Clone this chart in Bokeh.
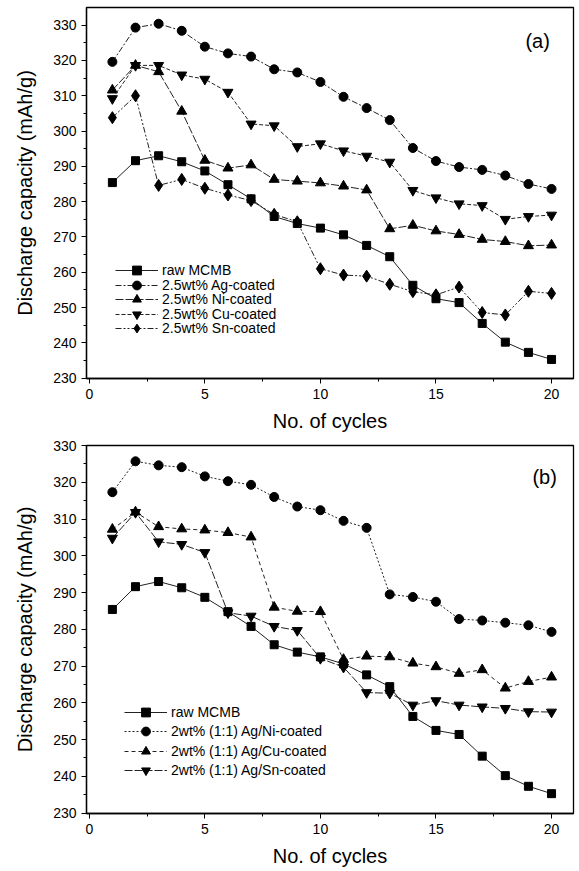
from bokeh.plotting import figure
from bokeh.layouts import column
from bokeh.models import Legend, LegendItem, Label, Range1d, FixedTicker
from bokeh.embed import file_html
from bokeh.resources import INLINE

cycles = list(range(1, 21))

# Panel (a)
raw_mcmb = [285.4, 291.6, 293.0, 291.3, 288.7, 284.8, 280.8, 275.8, 273.8, 272.5,
            270.6, 267.6, 264.4, 256.3, 252.5, 251.4, 245.5, 240.2, 237.3, 235.3]
ag_coated = [319.6, 329.3, 330.4, 328.4, 323.9, 322.0, 321.1, 317.5, 316.6, 313.9,
             309.7, 306.5, 303.1, 295.2, 291.5, 289.8, 289.0, 287.4, 285.0, 283.6]
ni_coated = [311.6, 318.6, 316.8, 305.6, 291.7, 289.5, 290.4, 286.3, 285.8, 285.3,
             284.4, 283.3, 272.3, 273.3, 271.7, 270.7, 269.3, 268.7, 267.5, 267.7]
cu_coated = [309.2, 318.6, 318.6, 315.9, 314.7, 311.0, 302.0, 301.5, 295.6, 296.4,
             294.4, 292.9, 291.2, 283.2, 281.1, 279.4, 278.9, 275.0, 275.8, 276.2]
sn_coated = [303.8, 310.0, 284.6, 286.3, 283.8, 281.9, 280.3, 276.4, 274.3, 261.0,
             259.2, 258.9, 256.6, 254.5, 253.6, 255.8, 248.6, 247.9, 254.6, 254.0]

# Panel (b)
agni_coated = [317.3, 325.7, 324.6, 324.1, 321.6, 320.3, 319.3, 316.0, 313.4, 312.4,
               309.5, 307.6, 289.5, 288.8, 287.5, 282.8, 282.4, 281.8, 281.1, 279.3]
agcu_coated = [307.2, 311.9, 307.9, 307.3, 307.0, 306.3, 305.1, 286.0, 284.9, 284.8,
               271.8, 272.7, 272.5, 270.8, 269.8, 268.0, 269.0, 264.0, 265.8, 267.0]
agsn_coated = [304.8, 311.8, 303.8, 303.1, 300.9, 284.5, 283.6, 280.8, 279.7, 272.1,
               269.7, 262.8, 262.6, 259.4, 260.6, 259.4, 258.9, 258.5, 257.6, 257.5]

labels_a = ["raw MCMB", "2.5wt% Ag-coated", "2.5wt% Ni-coated",
            "2.5wt% Cu-coated", "2.5wt% Sn-coated"]
labels_b = ["raw MCMB", "2wt% (1:1) Ag/Ni-coated", "2wt% (1:1) Ag/Cu-coated",
            "2wt% (1:1) Ag/Sn-coated"]

x_ticks = [0, 5, 10, 15, 20]
y_ticks = [230, 240, 250, 260, 270, 280, 290, 300, 310, 320, 330]

FONT = "Liberation Sans"


def make_fig(height, ymax, b_top, b_left, b_right, series, labels, markers, dashes,
             sizes, panel, panel_xy, leg_x, leg_y0, leg_step):
    p = figure(width=579, height=height, output_backend="svg", toolbar_location=None,
               x_range=Range1d(-0.12, 20.95), y_range=Range1d(229.9, ymax),
               min_border_top=b_top, min_border_bottom=58, min_border_left=b_left,
               min_border_right=b_right)
    p.background_fill_color = "white"
    p.border_fill_color = "white"
    p.outline_line_color = "black"
    p.outline_line_width = 1.3
    p.grid.visible = False
    for ax in (p.xaxis[0], p.yaxis[0]):
        ax.axis_line_color = "black"
        ax.axis_line_width = 1.3
        ax.major_tick_line_color = "black"
        ax.minor_tick_line_color = "black"
        ax.major_tick_out = 5
        ax.major_tick_in = 0
        ax.minor_tick_out = 3
        ax.minor_tick_in = 0
        ax.major_label_text_font = FONT
        ax.major_label_text_font_size = "14px"
        ax.major_label_text_color = "black"
        ax.axis_label_text_font = FONT
        ax.axis_label_text_font_size = "20px"
        ax.axis_label_text_font_style = "normal"
        ax.axis_label_text_color = "black"
    p.xaxis.ticker = FixedTicker(ticks=x_ticks, minor_ticks=[2.5, 7.5, 12.5, 17.5])
    p.yaxis.ticker = FixedTicker(ticks=y_ticks,
                                 minor_ticks=[235, 245, 255, 265, 275, 285, 295, 305, 315, 325])
    p.xaxis.axis_label = "No. of cycles"
    p.yaxis.axis_label = "Discharge capacity (mAh/g)"
    p.xaxis.major_label_standoff = 5
    p.xaxis.axis_label_standoff = 8
    p.yaxis.major_label_standoff = 5
    p.yaxis.axis_label_standoff = 14

    n = len(series)
    for i, (ys, lab, mk, dash, sz) in enumerate(zip(series, labels, markers, dashes, sizes)):
        ln = p.line(cycles, ys, line_color="#222222", line_width=1, line_dash=dash)
        sc = p.scatter(cycles, ys, marker=mk, size=sz, fill_color="black",
                       line_color="black")
        leg = Legend(items=[LegendItem(label=lab, renderers=[ln, sc])],
                     location=(leg_x, leg_y0 + (n - 1 - i) * leg_step),
                     glyph_width=43, glyph_height=22, label_height=12,
                     label_standoff=4, spacing=0, padding=0, margin=0,
                     border_line_color=None, background_fill_alpha=0,
                     label_text_font=FONT, label_text_font_size="14px",
                     label_text_color="black")
        p.add_layout(leg, "center")
    p.add_layout(Label(x=panel_xy[0], y=panel_xy[1], text=panel, text_font=FONT,
                       text_font_size="20px", text_align="center",
                       text_baseline="middle", text_color="black"))
    return p


pa = make_fig(436, 335.0, 7, 86, 4,
              [raw_mcmb, ag_coated, ni_coated, cu_coated, sn_coated], labels_a,
              ["square", "circle", "triangle", "inverted_triangle", "diamond"],
              ["solid", "6 2 2 2", "8 2", "4 2", "6 2 2 2 2 2"],
              [8, 9, 10, 10, 12], "(a)", (19.4, 325.5), 29, 39, 14.5)

pb = make_fig(435, 330.0, 9, 84, 6,
              [raw_mcmb, agni_coated, agcu_coated, agsn_coated], labels_b,
              ["square", "circle", "triangle", "inverted_triangle"],
              ["solid", "2 2", "4 3", "8 2"],
              [8, 9, 10, 10], "(b)", (19.7, 321.3), 38, 32, 19.3)

layout = column(pa, pb, spacing=0)
open("out.html", "w").write(file_html(layout, INLINE))
